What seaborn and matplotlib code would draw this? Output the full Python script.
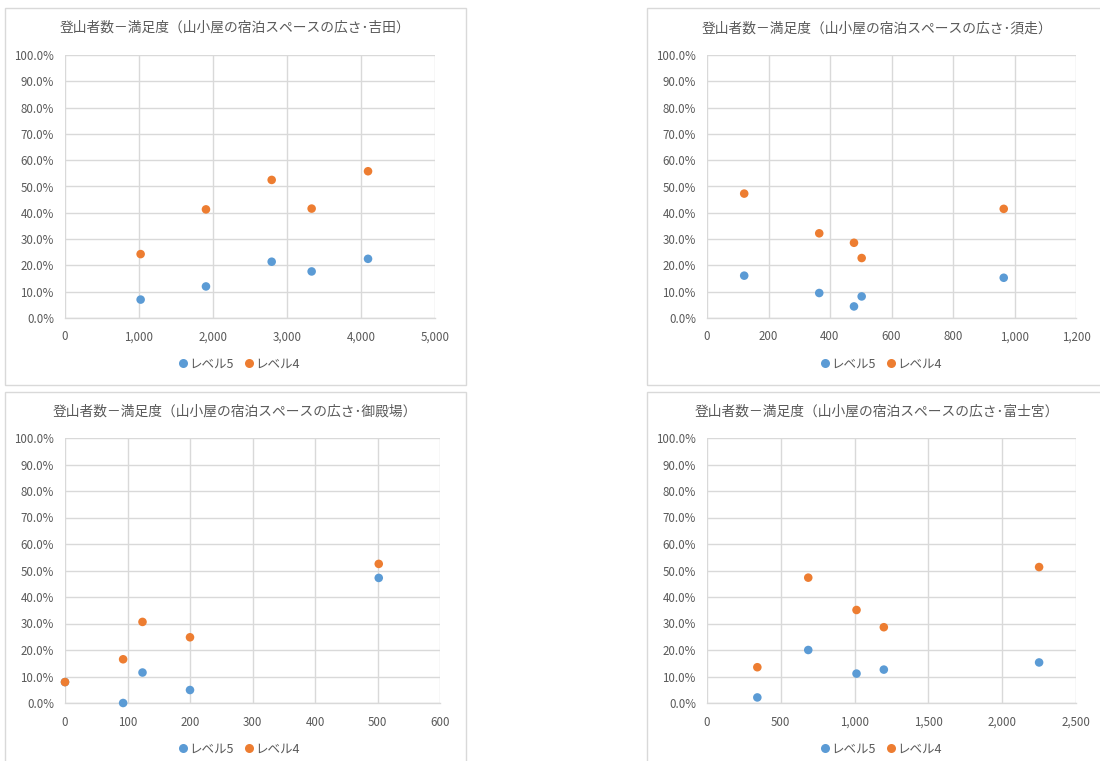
import matplotlib
matplotlib.use("Agg")
import matplotlib.pyplot as plt
from matplotlib.patches import Rectangle
from matplotlib.lines import Line2D
from matplotlib.ticker import FuncFormatter, MultipleLocator
import seaborn as sns
import pandas as pd

# ---------------- data ----------------
titles = [
    "登山者数－満足度（山小屋の宿泊スペースの広さ･吉田）",
    "登山者数－満足度（山小屋の宿泊スペースの広さ･須走）",
    "登山者数－満足度（山小屋の宿泊スペースの広さ･御殿場）",
    "登山者数－満足度（山小屋の宿泊スペースの広さ･富士宮）",
]
series_names = ["レベル5", "レベル4"]

yoshida_x = [1022, 1905, 2793, 3333, 4095]
yoshida_l5 = [0.070, 0.120, 0.214, 0.177, 0.225]
yoshida_l4 = [0.243, 0.413, 0.525, 0.416, 0.558]

subashiri_x = [121, 365, 478, 503, 965]
subashiri_l5 = [0.161, 0.095, 0.044, 0.082, 0.153]
subashiri_l4 = [0.473, 0.322, 0.286, 0.228, 0.415]

gotemba_x = [0, 93, 124, 200, 502]
gotemba_l5 = [0.079, 0.000, 0.115, 0.049, 0.472]
gotemba_l4 = [0.079, 0.165, 0.306, 0.248, 0.525]

fujinomiya_x = [341, 686, 1013, 1198, 2250]
fujinomiya_l5 = [0.021, 0.200, 0.111, 0.126, 0.153]
fujinomiya_l4 = [0.135, 0.473, 0.351, 0.286, 0.513]

x_max = [5000, 1200, 600, 2500]
x_step = [1000, 200, 100, 500]

# ---------------- style ----------------
sns.set_theme(style="white")
plt.rcParams["font.family"] = ["Noto Sans CJK JP", "DejaVu Sans"]

BLUE = "#5B9BD5"
ORANGE = "#ED7D31"
GRID = "#D9D9D9"
TXT = "#595959"
palette = {series_names[0]: BLUE, series_names[1]: ORANGE}

W, H = 1100, 761
fig = plt.figure(figsize=(W / 100, H / 100), dpi=100)
fig.patch.set_facecolor("white")

def px_rect(x0, y0, x1, y1):
    return [x0 / W, 1 - y1 / H, (x1 - x0) / W, (y1 - y0) / H]

# chart boxes
boxes = [(5, 8, 466, 385), (647, 8, 1130, 385), (5, 392, 466, 790), (647, 392, 1130, 790)]
for (x0, y0, x1, y1) in boxes:
    fig.patches.append(Rectangle((x0 / W, 1 - y1 / H), (x1 - x0) / W, (y1 - y0) / H,
                                 transform=fig.transFigure, fill=False,
                                 edgecolor=GRID, linewidth=1.0))

axes_px = [(65, 55, 435, 318), (707, 55, 1076, 318), (65, 438, 440, 703), (707, 438, 1076, 703)]
title_pos = [(235, 28), (877, 28), (235, 412), (877, 412)]
legend_pos = [(238, 364), (880, 364), (238, 749), (880, 749)]

datasets = [
    (yoshida_x, yoshida_l5, yoshida_l4),
    (subashiri_x, subashiri_l5, subashiri_l4),
    (gotemba_x, gotemba_l5, gotemba_l4),
    (fujinomiya_x, fujinomiya_l5, fujinomiya_l4),
]

for i, (xs, l5, l4) in enumerate(datasets):
    df = pd.DataFrame({
        "x": list(xs) + list(xs),
        "y": list(l5) + list(l4),
        "series": [series_names[0]] * len(xs) + [series_names[1]] * len(xs),
    })
    ax = fig.add_axes(px_rect(*axes_px[i]))
    ax.set_facecolor("white")
    sns.scatterplot(data=df, x="x", y="y", hue="series", palette=palette,
                    s=38, edgecolor="none", linewidth=0, legend=False, ax=ax,
                    zorder=3, clip_on=False)
    ax.set_xlim(0, x_max[i])
    ax.set_ylim(0, 1.0)
    ax.xaxis.set_major_locator(MultipleLocator(x_step[i]))
    ax.yaxis.set_major_locator(MultipleLocator(0.1))
    ax.xaxis.set_major_formatter(FuncFormatter(lambda v, p: f"{int(round(v)):,}"))
    ax.yaxis.set_major_formatter(FuncFormatter(lambda v, p: f"{v * 100:.1f}%"))
    ax.grid(True, color=GRID, linewidth=1.0)
    ax.set_axisbelow(True)
    for s in ["top", "right", "left"]:
        ax.spines[s].set_visible(False)
    ax.spines["bottom"].set_color(GRID)
    ax.spines["bottom"].set_linewidth(1.0)
    ax.tick_params(axis="both", length=0, labelsize=8.3, colors=TXT)
    ax.tick_params(axis="y", pad=8)
    ax.tick_params(axis="x", pad=9)
    ax.set_xlabel("")
    ax.set_ylabel("")

    tx, ty = title_pos[i]
    fig.text(tx / W, 1 - ty / H, titles[i], ha="center", va="center",
             fontsize=9.9, color=TXT)

    handles = [Line2D([], [], marker="o", linestyle="none", markersize=6.5,
                      markerfacecolor=palette[n], markeredgecolor="none", label=n)
               for n in series_names]
    lx, ly = legend_pos[i]
    fig.legend(handles=handles, loc="center", bbox_to_anchor=(lx / W, 1 - ly / H),
               ncol=2, frameon=False, fontsize=9, labelcolor=TXT,
               handletextpad=0.0, columnspacing=0.7, handlelength=1.0,
               borderaxespad=0, borderpad=0)

fig.savefig("out.png", dpi=100, facecolor="white")
